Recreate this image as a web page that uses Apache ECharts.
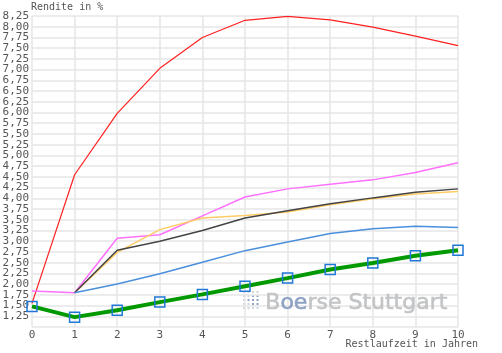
<!DOCTYPE html>
<html>
<head>
<meta charset="utf-8">
<script src="https://cdn.jsdelivr.net/npm/echarts@6/dist/echarts.min.js"></script>
<style>html,body{margin:0;padding:0;background:#fff}#c{width:502px;height:353px}</style>
</head>
<body>
<div id="c"></div>
<script>
var years = [0,1,2,3,4,5,6,7,8,9,10];
var redVals     = [1.55,4.55,5.98,7.03,7.75,8.15,8.24,8.16,7.99,7.78,7.56];
var magentaVals = [1.84,1.80,3.07,3.15,3.59,4.03,4.22,4.33,4.43,4.60,4.83];
var orangeVals  = [null,1.80,2.74,3.27,3.54,3.60,3.68,3.85,3.99,4.10,4.16];
var blackVals   = [null,1.80,2.79,3.00,3.25,3.54,3.71,3.875,4.01,4.14,4.22];
var blueVals    = [null,1.80,2.00,2.24,2.51,2.78,2.98,3.18,3.29,3.35,3.32];
var greenVals   = [1.48,1.23,1.39,1.58,1.76,1.95,2.14,2.34,2.49,2.66,2.79];
var yTitle = 'Rendite in %';
var xTitle = 'Restlaufzeit in Jahren';

function pairs(vals){ return years.map(function(x,i){ return [x, vals[i]]; }); }
var mono = 'DejaVu Sans Mono';
var chart = echarts.init(document.getElementById('c'));
function fmt(v){ if (Math.abs(v-1)<1e-6) return ''; return v.toFixed(2).replace('.',','); }
function line(vals, color, w, z){
  return {type:'line', data:pairs(vals), showSymbol:false, symbol:'none', z:z,
    lineStyle:{color:color, width:w}, itemStyle:{color:color}, connectNulls:false};
}
var dots = [];
for (var r = 0; r < 5; r++) for (var c = 0; c < 4; c++) {
  var blue = (r >= 1 && r <= 3 && c >= 2) || (r == 2 && c == 1);
  dots.push({type:'rect', shape:{x:c*4.5, y:r*4, width:2, height:2}, style:{fill: blue ? '#8ea2c4' : '#d2d6de'}});
}
chart.setOption({
  animation:false,
  backgroundColor:'#fff',
  grid:{left:32, right:44, top:16, bottom:26, containLabel:false, outerBoundsMode:'none'},
  xAxis:{type:'value', min:0, max:10, interval:1,
    axisLine:{show:false}, axisTick:{show:false},
    axisLabel:{fontFamily:mono, fontSize:11, color:'#555', margin:3, hideOverlap:false},
    splitLine:{show:true, lineStyle:{color:'#e6e6e6', width:1.5}}},
  yAxis:[
    {type:'value', min:1, max:8.25, interval:0.25,
    axisLine:{show:false}, axisTick:{show:false},
    axisLabel:{fontFamily:mono, fontSize:11, lineHeight:10, color:'#555', margin:3, hideOverlap:false, showMaxLabel:false,
      formatter:fmt},
    splitLine:{show:true, lineStyle:{color:'#e6e6e6', width:1.5}}},
    {type:'value', position:'left', min:1, max:8.25, interval:7.25,
    axisLine:{show:false}, axisTick:{show:false}, splitLine:{show:false},
    axisLabel:{fontFamily:mono, fontSize:11, lineHeight:10, color:'#555', margin:3, showMaxLabel:true, formatter:fmt}}
  ],
  graphic:[
    {type:'text', left:31, top:2, silent:true,
      style:{text:yTitle, fontFamily:mono, fontSize:10, fill:'#555'}},
    {type:'text', right:24, top:339, silent:true,
      style:{text:xTitle, fontFamily:mono, fontSize:10, fill:'#555'}},
    {type:'group', left:243, top:291, silent:true, children:dots},
    {type:'text', left:265, top:292, silent:true, z:1,
      style:{text:'{g|B}{b|oe}{g|rse Stuttgart}', rich:{
        g:{fontFamily:'DejaVu Sans', fontSize:22, fill:'#c2c4c6', stroke:'#c2c4c6', lineWidth:0.6},
        b:{fontFamily:'DejaVu Sans', fontSize:22, fill:'#8ea2c4', stroke:'#8ea2c4', lineWidth:0.6}}}}
  ],
  series:[
    line(redVals,'#ff2020',1.2,3),
    line(magentaVals,'#ff70ff',1.5,4),
    line(orangeVals,'#ffcc66',1.5,5),
    line(blackVals,'#444444',1.5,6),
    line(blueVals,'#4a8fdc',1.5,7),
    {type:'line', data:pairs(greenVals), z:10, symbol:'rect', symbolSize:10, showSymbol:true,
      lineStyle:{color:'#009900', width:4},
      itemStyle:{color:'rgba(0,0,0,0)', borderColor:'#1f78d6', borderWidth:1.5}}
  ]
});
</script>
</body>
</html>
